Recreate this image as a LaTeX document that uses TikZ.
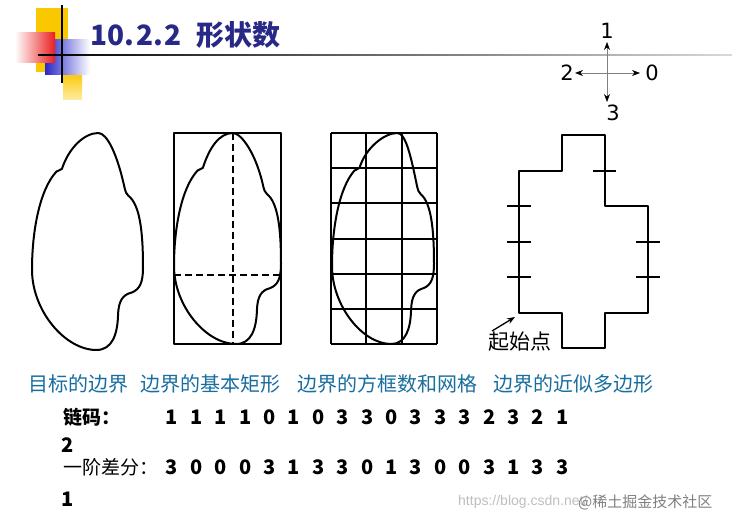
\documentclass[tikz,border=0pt]{standalone}
\usepackage{fontspec}
\setmainfont{Noto Sans CJK SC}
\newfontfamily\dejavu{DejaVu Sans}
\newfontfamily\libsans{Liberation Sans}
\usetikzlibrary{arrows.meta}
\definecolor{hdryellow}{RGB}{250,200,0}
\definecolor{hdrblue}{RGB}{40,40,200}
\definecolor{hdrred}{RGB}{235,30,30}
\definecolor{titleblue}{RGB}{40,40,135}
\definecolor{captionblue}{RGB}{25,110,160}
\newcommand\drawblob[1]{%
\draw[shp] (#1,0) .. controls ({#1-0.127},0) and (0.33,0.07) .. (0.27,0.165)
.. controls (0.255,0.172) and (0.235,0.172) .. (0.22,0.178)
.. controls (0.07,0.26) and (0,0.45) .. (0,0.63)
.. controls (0,0.82) and (0.3,1) .. (0.58,1)
.. controls (0.72,1) and (0.77,0.93) .. (0.775,0.84)
.. controls (0.78,0.77) and (0.82,0.745) .. (0.9,0.735)
.. controls (0.97,0.72) and (1,0.69) .. (1,0.62)
.. controls (1,0.45) and (0.97,0.33) .. (0.87,0.29)
.. controls (0.85,0.28) and (0.84,0.27) .. (0.835,0.255)
.. controls (0.77,0.1) and ({#1+0.08},0) .. (#1,0) -- cycle;}
\begin{document}
\begin{tikzpicture}[x=1pt,y=-1pt,line join=round,
  shp/.style={line width=2pt},
  tick/.style={line width=1.6pt},
  grd/.style={line width=1.9pt},
  dsh/.style={line width=2.5pt,dash pattern=on 7pt off 4pt},
  arr/.style={draw=gray,line width=0.7pt,-{Stealth[length=8pt,width=6pt,color=black]}},
  cmp/.style={inner sep=0pt,font=\dejavu\fontsize{21}{23}\selectfont},
  captxt/.style={inner sep=0pt,anchor=west,text=captionblue,font=\fontsize{20}{22}\selectfont},
  codelbl/.style={inner sep=0pt,anchor=west,font=\fontsize{19}{21}\selectfont},
  digit/.style={inner sep=0pt,font=\fontsize{20}{22}\selectfont\bfseries}]
\useasboundingbox (0,0) rectangle (732,524);
\fill[white] (0,0) rectangle (732,524);
% header decoration
\fill[hdryellow] (36,8) rectangle (68,72);
\shade[top color=hdryellow,bottom color=hdryellow!35] (63,72) rectangle (82,100);
\shade[left color=hdrblue,right color=white] (45,40) rectangle (90,75);
\shade[left color=white,right color=hdrred] (15,33) rectangle (55,63);
\draw[line width=1.2pt] (62,5) -- (62,83);
\shade[left color=black,middle color=black!55,right color=black!15] (38,54.3) rectangle (732,55.7);
\node[anchor=west,inner sep=0pt,text=titleblue,font=\fontsize{28}{30}\selectfont\bfseries] (title) at (90,35) {10.\hspace{2pt}2.\hspace{2pt}2\hspace{14pt}形状数};
% compass
\coordinate (o) at (607,73);
\coordinate (cu) at (607,42);
\coordinate (cl) at (575,73);
\coordinate (cr) at (640,73);
\coordinate (cd) at (607,102);
\draw[arr] (o) -- (cu);
\draw[arr] (o) -- (cl);
\draw[arr] (o) -- (cr);
\draw[arr] (o) -- (cd);
\node[cmp] (n1) at (607,31) {1};
\node[cmp] (n2) at (567,73) {2};
\node[cmp] (n0) at (652,73) {0};
\node[cmp] (n3) at (613,113) {3};
% shape 1
\begin{scope}[shift={(32,133)},xscale=111,yscale=217]
\drawblob{0.597}
\end{scope}
% shape 2
\draw[shp] (174,133) rectangle (281,344);
\begin{scope}[shift={(174,133)},xscale=107,yscale=211]
\drawblob{0.55}
\end{scope}
\draw[dsh] (233,133) -- (233,344);
\draw[dsh] (174,275) -- (281,275);
% shape 3
\foreach \gx in {331,366,402,437} \draw[grd] (\gx,133) -- (\gx,344);
\foreach \gy in {133,168,203,239,274,309,344} \draw[grd] (331,\gy) -- (437,\gy);
\begin{scope}[shift={(332,133)},xscale=102,yscale=211]
\drawblob{0.64}
\end{scope}
% shape 4
\draw[shp] (562,135) -- (605,135) -- (605,206) -- (648,206) -- (648,313) -- (605,313) -- (605,348) -- (562,348) -- (562,313) -- (519,313) -- (519,171) -- (562,171) -- cycle;
\draw[tick] (593,171) -- (616,171);
\draw[tick] (507,206) -- (531,206);
\draw[tick] (507,242) -- (531,242);
\draw[tick] (507,277) -- (531,277);
\draw[tick] (636,242) -- (660,242);
\draw[tick] (636,277) -- (660,277);
\coordinate (sa) at (492,331);
\coordinate (sb) at (515,317);
\draw[line width=1.3pt,-{Stealth[length=8pt,width=6pt]}] (sa) -- (sb);
\node[inner sep=0pt,font=\fontsize{21}{23}\selectfont] (start) at (520,342) {起始点};
% captions
\node[captxt] (c1) at (28,384) {目标的边界};
\node[captxt] (c2) at (140,384) {边界的基本矩形};
\node[captxt] (c3) at (297,384) {边界的方框数和网格};
\node[captxt] (c4) at (493,384) {边界的近似多边形};
% codes
\node[codelbl,font=\fontsize{19}{21}\selectfont\bfseries] (lc) at (63,417) {链码：};
\foreach \d [count=\i from 0] in {1,1,1,1,0,1,0,3,3,0,3,3,3,2,3,2,1}
  \node[digit] (a\i) at ({172+24.4*\i},417) {\d};
\node[digit] (a17) at (68,445) {2};
\node[codelbl] (ld) at (63,467) {一阶差分：};
\foreach \d [count=\i from 0] in {3,0,0,0,3,1,3,3,0,1,3,0,0,3,1,3,3}
  \node[digit] (b\i) at ({172+24.4*\i},467) {\d};
\node[digit] (b17) at (68,499) {1};
% watermark
\node[inner sep=0pt,anchor=west,text=black!25,font=\libsans\fontsize{14}{16}\selectfont] (url) at (458,502) {https://blog.csdn.net/};
\node[inner sep=0pt,anchor=west,text=black!50,font=\fontsize{15}{17}\selectfont] (wm) at (578,502) {@稀土掘金技术社区};
\end{tikzpicture}
\end{document}
